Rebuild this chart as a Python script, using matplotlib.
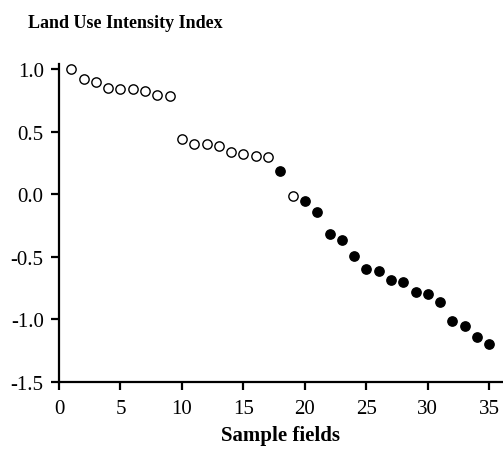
import matplotlib.pyplot as plt

plt.rcParams['font.family'] = ['Liberation Serif', 'DejaVu Serif']

# sample fields and their index values
fields = list(range(1, 36))
index_vals = [1.00, 0.92, 0.90, 0.85, 0.845, 0.84, 0.825, 0.79, 0.785,
              0.44, 0.405, 0.405, 0.385, 0.335, 0.32, 0.31, 0.295,
              0.185, -0.01, -0.055, -0.14, -0.32, -0.365, -0.495, -0.60,
              -0.615, -0.685, -0.70, -0.78, -0.80, -0.86, -1.01, -1.05,
              -1.14, -1.20]
# True = filled marker
filled = [False] * 17 + [True, False] + [True] * 16

fig = plt.figure(figsize=(5.03, 4.52), dpi=100)
ax = fig.add_axes([0.1173, 0.1527, 0.88, 0.703])

x_open = [f for f, s in zip(fields, filled) if not s]
y_open = [v for v, s in zip(index_vals, filled) if not s]
x_fill = [f for f, s in zip(fields, filled) if s]
y_fill = [v for v, s in zip(index_vals, filled) if s]

ax.scatter(x_open, y_open, s=45, facecolors='white', edgecolors='black', linewidths=1.0, zorder=3)
ax.scatter(x_fill, y_fill, s=45, facecolors='black', edgecolors='black', linewidths=1.0, zorder=3)

ax.set_xlim(0, 36)
ax.set_ylim(-1.5, 1.04)
ax.set_xticks([0, 5, 10, 15, 20, 25, 30, 35])
ax.set_yticks([-1.5, -1.0, -0.5, 0.0, 0.5, 1.0])
ax.set_yticklabels(['-1.5', '-1.0', '-0.5', '0.0', '0.5', '1.0'])

for side in ['top', 'right']:
    ax.spines[side].set_visible(False)
for side in ['left', 'bottom']:
    ax.spines[side].set_linewidth(1.6)

ax.tick_params(direction='out', length=6, width=1.6, labelsize=15)
ax.tick_params(axis='y', pad=5)
ax.tick_params(axis='x', pad=6)
ax.set_xlabel('Sample fields', fontsize=15, fontweight='bold', labelpad=5)
fig.text(0.055, 0.947, 'Land Use Intensity Index', fontsize=13, fontweight='bold', va='center', ha='left')

fig.savefig('out.png', dpi=100)
